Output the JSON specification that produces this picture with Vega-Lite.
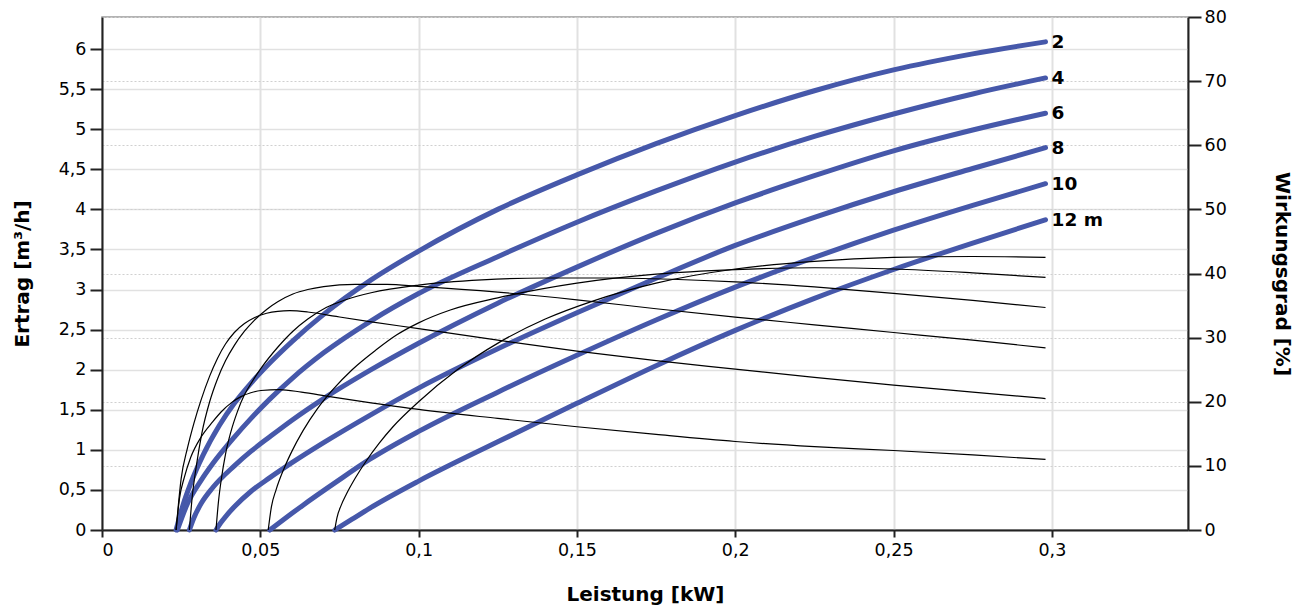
{
  "$schema": "https://vega.github.io/schema/vega-lite/v6.json",
  "width": 1086,
  "height": 513,
  "autosize": "none",
  "padding": {"left": 102, "top": 17, "right": 120, "bottom": 77},
  "background": "white",
  "config": {
    "font": "DejaVu Sans",
    "view": {"stroke": "#9a9a9a", "strokeWidth": 1.5},
    "axis": {
      "labelFont": "DejaVu Sans",
      "labelFontSize": 17.5,
      "labelColor": "#000000",
      "titleFont": "DejaVu Sans",
      "titleFontSize": 20,
      "titleFontWeight": "bold",
      "titleColor": "#000000",
      "domainColor": "#222222",
      "domainWidth": 2,
      "tickColor": "#222222",
      "tickWidth": 2,
      "gridColor": "#e1e1e1",
      "gridWidth": 1.6
    }
  },
  "datasets": {
    "ertrag": [
      {"Hoehe": 2, "Leistung": 0.0234, "Ertrag": 0},
      {"Hoehe": 2, "Leistung": 0.0255, "Ertrag": 0.3},
      {"Hoehe": 2, "Leistung": 0.028, "Ertrag": 0.58},
      {"Hoehe": 2, "Leistung": 0.032, "Ertrag": 0.94},
      {"Hoehe": 2, "Leistung": 0.037, "Ertrag": 1.3},
      {"Hoehe": 2, "Leistung": 0.0418, "Ertrag": 1.58},
      {"Hoehe": 2, "Leistung": 0.047, "Ertrag": 1.83},
      {"Hoehe": 2, "Leistung": 0.0529, "Ertrag": 2.08},
      {"Hoehe": 2, "Leistung": 0.06, "Ertrag": 2.35},
      {"Hoehe": 2, "Leistung": 0.07, "Ertrag": 2.69},
      {"Hoehe": 2, "Leistung": 0.085, "Ertrag": 3.12},
      {"Hoehe": 2, "Leistung": 0.1, "Ertrag": 3.48},
      {"Hoehe": 2, "Leistung": 0.125, "Ertrag": 4.0},
      {"Hoehe": 2, "Leistung": 0.15, "Ertrag": 4.43},
      {"Hoehe": 2, "Leistung": 0.175, "Ertrag": 4.82},
      {"Hoehe": 2, "Leistung": 0.2, "Ertrag": 5.17},
      {"Hoehe": 2, "Leistung": 0.225, "Ertrag": 5.48},
      {"Hoehe": 2, "Leistung": 0.25, "Ertrag": 5.74},
      {"Hoehe": 2, "Leistung": 0.275, "Ertrag": 5.94},
      {"Hoehe": 2, "Leistung": 0.298, "Ertrag": 6.09},

      {"Hoehe": 4, "Leistung": 0.0238, "Ertrag": 0},
      {"Hoehe": 4, "Leistung": 0.027, "Ertrag": 0.33},
      {"Hoehe": 4, "Leistung": 0.0313, "Ertrag": 0.62},
      {"Hoehe": 4, "Leistung": 0.035, "Ertrag": 0.83},
      {"Hoehe": 4, "Leistung": 0.0418, "Ertrag": 1.16},
      {"Hoehe": 4, "Leistung": 0.047, "Ertrag": 1.39},
      {"Hoehe": 4, "Leistung": 0.0529, "Ertrag": 1.63},
      {"Hoehe": 4, "Leistung": 0.06, "Ertrag": 1.89},
      {"Hoehe": 4, "Leistung": 0.07, "Ertrag": 2.21},
      {"Hoehe": 4, "Leistung": 0.085, "Ertrag": 2.61},
      {"Hoehe": 4, "Leistung": 0.1, "Ertrag": 2.95},
      {"Hoehe": 4, "Leistung": 0.125, "Ertrag": 3.41},
      {"Hoehe": 4, "Leistung": 0.15, "Ertrag": 3.84},
      {"Hoehe": 4, "Leistung": 0.175, "Ertrag": 4.23},
      {"Hoehe": 4, "Leistung": 0.2, "Ertrag": 4.59},
      {"Hoehe": 4, "Leistung": 0.225, "Ertrag": 4.91},
      {"Hoehe": 4, "Leistung": 0.25, "Ertrag": 5.19},
      {"Hoehe": 4, "Leistung": 0.275, "Ertrag": 5.44},
      {"Hoehe": 4, "Leistung": 0.298, "Ertrag": 5.64},

      {"Hoehe": 6, "Leistung": 0.0276, "Ertrag": 0},
      {"Hoehe": 6, "Leistung": 0.029, "Ertrag": 0.15},
      {"Hoehe": 6, "Leistung": 0.0313, "Ertrag": 0.33},
      {"Hoehe": 6, "Leistung": 0.035, "Ertrag": 0.53},
      {"Hoehe": 6, "Leistung": 0.0418, "Ertrag": 0.8},
      {"Hoehe": 6, "Leistung": 0.047, "Ertrag": 0.98},
      {"Hoehe": 6, "Leistung": 0.0529, "Ertrag": 1.16},
      {"Hoehe": 6, "Leistung": 0.06, "Ertrag": 1.37},
      {"Hoehe": 6, "Leistung": 0.07, "Ertrag": 1.64},
      {"Hoehe": 6, "Leistung": 0.085, "Ertrag": 2.0},
      {"Hoehe": 6, "Leistung": 0.1, "Ertrag": 2.33},
      {"Hoehe": 6, "Leistung": 0.125, "Ertrag": 2.83},
      {"Hoehe": 6, "Leistung": 0.15, "Ertrag": 3.28},
      {"Hoehe": 6, "Leistung": 0.175, "Ertrag": 3.7},
      {"Hoehe": 6, "Leistung": 0.2, "Ertrag": 4.08},
      {"Hoehe": 6, "Leistung": 0.225, "Ertrag": 4.42},
      {"Hoehe": 6, "Leistung": 0.25, "Ertrag": 4.73},
      {"Hoehe": 6, "Leistung": 0.275, "Ertrag": 4.99},
      {"Hoehe": 6, "Leistung": 0.298, "Ertrag": 5.2},

      {"Hoehe": 8, "Leistung": 0.036, "Ertrag": 0},
      {"Hoehe": 8, "Leistung": 0.0375, "Ertrag": 0.09},
      {"Hoehe": 8, "Leistung": 0.0395, "Ertrag": 0.19},
      {"Hoehe": 8, "Leistung": 0.0418, "Ertrag": 0.29},
      {"Hoehe": 8, "Leistung": 0.047, "Ertrag": 0.48},
      {"Hoehe": 8, "Leistung": 0.0529, "Ertrag": 0.65},
      {"Hoehe": 8, "Leistung": 0.06, "Ertrag": 0.84},
      {"Hoehe": 8, "Leistung": 0.07, "Ertrag": 1.09},
      {"Hoehe": 8, "Leistung": 0.085, "Ertrag": 1.44},
      {"Hoehe": 8, "Leistung": 0.1, "Ertrag": 1.77},
      {"Hoehe": 8, "Leistung": 0.125, "Ertrag": 2.26},
      {"Hoehe": 8, "Leistung": 0.15, "Ertrag": 2.71},
      {"Hoehe": 8, "Leistung": 0.175, "Ertrag": 3.14},
      {"Hoehe": 8, "Leistung": 0.2, "Ertrag": 3.55},
      {"Hoehe": 8, "Leistung": 0.225, "Ertrag": 3.9},
      {"Hoehe": 8, "Leistung": 0.25, "Ertrag": 4.22},
      {"Hoehe": 8, "Leistung": 0.275, "Ertrag": 4.51},
      {"Hoehe": 8, "Leistung": 0.298, "Ertrag": 4.77},

      {"Hoehe": 10, "Leistung": 0.053, "Ertrag": 0},
      {"Hoehe": 10, "Leistung": 0.058, "Ertrag": 0.15},
      {"Hoehe": 10, "Leistung": 0.0635, "Ertrag": 0.31},
      {"Hoehe": 10, "Leistung": 0.074, "Ertrag": 0.6},
      {"Hoehe": 10, "Leistung": 0.0845, "Ertrag": 0.88},
      {"Hoehe": 10, "Leistung": 0.1, "Ertrag": 1.23},
      {"Hoehe": 10, "Leistung": 0.125, "Ertrag": 1.72},
      {"Hoehe": 10, "Leistung": 0.15, "Ertrag": 2.18},
      {"Hoehe": 10, "Leistung": 0.175, "Ertrag": 2.62},
      {"Hoehe": 10, "Leistung": 0.2, "Ertrag": 3.03},
      {"Hoehe": 10, "Leistung": 0.225, "Ertrag": 3.4},
      {"Hoehe": 10, "Leistung": 0.25, "Ertrag": 3.74},
      {"Hoehe": 10, "Leistung": 0.275, "Ertrag": 4.05},
      {"Hoehe": 10, "Leistung": 0.298, "Ertrag": 4.32},

      {"Hoehe": 12, "Leistung": 0.0735, "Ertrag": 0},
      {"Hoehe": 12, "Leistung": 0.079, "Ertrag": 0.135},
      {"Hoehe": 12, "Leistung": 0.0845, "Ertrag": 0.27},
      {"Hoehe": 12, "Leistung": 0.1, "Ertrag": 0.61},
      {"Hoehe": 12, "Leistung": 0.125, "Ertrag": 1.1},
      {"Hoehe": 12, "Leistung": 0.15, "Ertrag": 1.58},
      {"Hoehe": 12, "Leistung": 0.175, "Ertrag": 2.05},
      {"Hoehe": 12, "Leistung": 0.2, "Ertrag": 2.49},
      {"Hoehe": 12, "Leistung": 0.225, "Ertrag": 2.89},
      {"Hoehe": 12, "Leistung": 0.25, "Ertrag": 3.25},
      {"Hoehe": 12, "Leistung": 0.275, "Ertrag": 3.58},
      {"Hoehe": 12, "Leistung": 0.298, "Ertrag": 3.87}
    ],
    "wirkungsgrad": [
      {"Hoehe": 2, "Leistung": 0.0234, "Wirkungsgrad": 0},
      {"Hoehe": 2, "Leistung": 0.0245, "Wirkungsgrad": 5.0},
      {"Hoehe": 2, "Leistung": 0.026, "Wirkungsgrad": 8.2},
      {"Hoehe": 2, "Leistung": 0.028, "Wirkungsgrad": 11.3},
      {"Hoehe": 2, "Leistung": 0.0313, "Wirkungsgrad": 14.5},
      {"Hoehe": 2, "Leistung": 0.035, "Wirkungsgrad": 16.9},
      {"Hoehe": 2, "Leistung": 0.0376, "Wirkungsgrad": 18.4},
      {"Hoehe": 2, "Leistung": 0.041, "Wirkungsgrad": 19.9},
      {"Hoehe": 2, "Leistung": 0.0439, "Wirkungsgrad": 20.8},
      {"Hoehe": 2, "Leistung": 0.047, "Wirkungsgrad": 21.4},
      {"Hoehe": 2, "Leistung": 0.0502, "Wirkungsgrad": 21.75},
      {"Hoehe": 2, "Leistung": 0.056, "Wirkungsgrad": 21.9},
      {"Hoehe": 2, "Leistung": 0.063, "Wirkungsgrad": 21.5},
      {"Hoehe": 2, "Leistung": 0.0719, "Wirkungsgrad": 20.8},
      {"Hoehe": 2, "Leistung": 0.0855, "Wirkungsgrad": 19.8},
      {"Hoehe": 2, "Leistung": 0.1, "Wirkungsgrad": 18.8},
      {"Hoehe": 2, "Leistung": 0.125, "Wirkungsgrad": 17.4},
      {"Hoehe": 2, "Leistung": 0.15, "Wirkungsgrad": 16.1},
      {"Hoehe": 2, "Leistung": 0.175, "Wirkungsgrad": 14.9},
      {"Hoehe": 2, "Leistung": 0.2, "Wirkungsgrad": 13.8},
      {"Hoehe": 2, "Leistung": 0.225, "Wirkungsgrad": 13.0},
      {"Hoehe": 2, "Leistung": 0.25, "Wirkungsgrad": 12.4},
      {"Hoehe": 2, "Leistung": 0.275, "Wirkungsgrad": 11.7},
      {"Hoehe": 2, "Leistung": 0.298, "Wirkungsgrad": 11.0},

      {"Hoehe": 4, "Leistung": 0.0234, "Wirkungsgrad": 0},
      {"Hoehe": 4, "Leistung": 0.025, "Wirkungsgrad": 8.0},
      {"Hoehe": 4, "Leistung": 0.027, "Wirkungsgrad": 12.8},
      {"Hoehe": 4, "Leistung": 0.029, "Wirkungsgrad": 16.6},
      {"Hoehe": 4, "Leistung": 0.0313, "Wirkungsgrad": 20.3},
      {"Hoehe": 4, "Leistung": 0.034, "Wirkungsgrad": 24.0},
      {"Hoehe": 4, "Leistung": 0.0365, "Wirkungsgrad": 26.8},
      {"Hoehe": 4, "Leistung": 0.039, "Wirkungsgrad": 29.0},
      {"Hoehe": 4, "Leistung": 0.0418, "Wirkungsgrad": 30.8},
      {"Hoehe": 4, "Leistung": 0.045, "Wirkungsgrad": 32.2},
      {"Hoehe": 4, "Leistung": 0.0481, "Wirkungsgrad": 33.1},
      {"Hoehe": 4, "Leistung": 0.052, "Wirkungsgrad": 33.8},
      {"Hoehe": 4, "Leistung": 0.0555, "Wirkungsgrad": 34.1},
      {"Hoehe": 4, "Leistung": 0.0593, "Wirkungsgrad": 34.2},
      {"Hoehe": 4, "Leistung": 0.065, "Wirkungsgrad": 34.0},
      {"Hoehe": 4, "Leistung": 0.074, "Wirkungsgrad": 33.3},
      {"Hoehe": 4, "Leistung": 0.0845, "Wirkungsgrad": 32.5},
      {"Hoehe": 4, "Leistung": 0.1, "Wirkungsgrad": 31.4},
      {"Hoehe": 4, "Leistung": 0.125, "Wirkungsgrad": 29.6},
      {"Hoehe": 4, "Leistung": 0.15, "Wirkungsgrad": 27.9},
      {"Hoehe": 4, "Leistung": 0.175, "Wirkungsgrad": 26.4},
      {"Hoehe": 4, "Leistung": 0.2, "Wirkungsgrad": 25.1},
      {"Hoehe": 4, "Leistung": 0.225, "Wirkungsgrad": 23.8},
      {"Hoehe": 4, "Leistung": 0.25, "Wirkungsgrad": 22.6},
      {"Hoehe": 4, "Leistung": 0.275, "Wirkungsgrad": 21.5},
      {"Hoehe": 4, "Leistung": 0.298, "Wirkungsgrad": 20.5},

      {"Hoehe": 6, "Leistung": 0.0276, "Wirkungsgrad": 0},
      {"Hoehe": 6, "Leistung": 0.0285, "Wirkungsgrad": 5.2},
      {"Hoehe": 6, "Leistung": 0.0298, "Wirkungsgrad": 10.0},
      {"Hoehe": 6, "Leistung": 0.0315, "Wirkungsgrad": 15.0},
      {"Hoehe": 6, "Leistung": 0.034, "Wirkungsgrad": 20.0},
      {"Hoehe": 6, "Leistung": 0.0365, "Wirkungsgrad": 23.6},
      {"Hoehe": 6, "Leistung": 0.039, "Wirkungsgrad": 26.4},
      {"Hoehe": 6, "Leistung": 0.0418, "Wirkungsgrad": 28.8},
      {"Hoehe": 6, "Leistung": 0.045, "Wirkungsgrad": 31.0},
      {"Hoehe": 6, "Leistung": 0.0481, "Wirkungsgrad": 32.7},
      {"Hoehe": 6, "Leistung": 0.052, "Wirkungsgrad": 34.4},
      {"Hoehe": 6, "Leistung": 0.0555, "Wirkungsgrad": 35.6},
      {"Hoehe": 6, "Leistung": 0.0603, "Wirkungsgrad": 36.8},
      {"Hoehe": 6, "Leistung": 0.065, "Wirkungsgrad": 37.5},
      {"Hoehe": 6, "Leistung": 0.07, "Wirkungsgrad": 37.95},
      {"Hoehe": 6, "Leistung": 0.08, "Wirkungsgrad": 38.3},
      {"Hoehe": 6, "Leistung": 0.09, "Wirkungsgrad": 38.3},
      {"Hoehe": 6, "Leistung": 0.1, "Wirkungsgrad": 38.0},
      {"Hoehe": 6, "Leistung": 0.125, "Wirkungsgrad": 37.1},
      {"Hoehe": 6, "Leistung": 0.15, "Wirkungsgrad": 35.9},
      {"Hoehe": 6, "Leistung": 0.175, "Wirkungsgrad": 34.5},
      {"Hoehe": 6, "Leistung": 0.2, "Wirkungsgrad": 33.2},
      {"Hoehe": 6, "Leistung": 0.225, "Wirkungsgrad": 32.0},
      {"Hoehe": 6, "Leistung": 0.25, "Wirkungsgrad": 30.8},
      {"Hoehe": 6, "Leistung": 0.275, "Wirkungsgrad": 29.6},
      {"Hoehe": 6, "Leistung": 0.298, "Wirkungsgrad": 28.4},

      {"Hoehe": 8, "Leistung": 0.036, "Wirkungsgrad": 0},
      {"Hoehe": 8, "Leistung": 0.0368, "Wirkungsgrad": 4.5},
      {"Hoehe": 8, "Leistung": 0.0378, "Wirkungsgrad": 8.3},
      {"Hoehe": 8, "Leistung": 0.039, "Wirkungsgrad": 11.8},
      {"Hoehe": 8, "Leistung": 0.0407, "Wirkungsgrad": 15.3},
      {"Hoehe": 8, "Leistung": 0.0428, "Wirkungsgrad": 18.5},
      {"Hoehe": 8, "Leistung": 0.0449, "Wirkungsgrad": 21.0},
      {"Hoehe": 8, "Leistung": 0.0475, "Wirkungsgrad": 23.2},
      {"Hoehe": 8, "Leistung": 0.0502, "Wirkungsgrad": 25.2},
      {"Hoehe": 8, "Leistung": 0.0555, "Wirkungsgrad": 28.5},
      {"Hoehe": 8, "Leistung": 0.0603, "Wirkungsgrad": 31.0},
      {"Hoehe": 8, "Leistung": 0.065, "Wirkungsgrad": 32.9},
      {"Hoehe": 8, "Leistung": 0.0708, "Wirkungsgrad": 34.7},
      {"Hoehe": 8, "Leistung": 0.077, "Wirkungsgrad": 35.9},
      {"Hoehe": 8, "Leistung": 0.085, "Wirkungsgrad": 37.0},
      {"Hoehe": 8, "Leistung": 0.1, "Wirkungsgrad": 38.2},
      {"Hoehe": 8, "Leistung": 0.12, "Wirkungsgrad": 39.0},
      {"Hoehe": 8, "Leistung": 0.14, "Wirkungsgrad": 39.3},
      {"Hoehe": 8, "Leistung": 0.16, "Wirkungsgrad": 39.3},
      {"Hoehe": 8, "Leistung": 0.18, "Wirkungsgrad": 39.1},
      {"Hoehe": 8, "Leistung": 0.2, "Wirkungsgrad": 38.7},
      {"Hoehe": 8, "Leistung": 0.225, "Wirkungsgrad": 37.9},
      {"Hoehe": 8, "Leistung": 0.25, "Wirkungsgrad": 36.9},
      {"Hoehe": 8, "Leistung": 0.275, "Wirkungsgrad": 35.8},
      {"Hoehe": 8, "Leistung": 0.298, "Wirkungsgrad": 34.7},

      {"Hoehe": 10, "Leistung": 0.0525, "Wirkungsgrad": 0},
      {"Hoehe": 10, "Leistung": 0.0535, "Wirkungsgrad": 3.6},
      {"Hoehe": 10, "Leistung": 0.055, "Wirkungsgrad": 6.3},
      {"Hoehe": 10, "Leistung": 0.0575, "Wirkungsgrad": 9.6},
      {"Hoehe": 10, "Leistung": 0.06, "Wirkungsgrad": 12.3},
      {"Hoehe": 10, "Leistung": 0.0635, "Wirkungsgrad": 15.5},
      {"Hoehe": 10, "Leistung": 0.068, "Wirkungsgrad": 18.9},
      {"Hoehe": 10, "Leistung": 0.0729, "Wirkungsgrad": 21.9},
      {"Hoehe": 10, "Leistung": 0.079, "Wirkungsgrad": 25.0},
      {"Hoehe": 10, "Leistung": 0.0866, "Wirkungsgrad": 28.1},
      {"Hoehe": 10, "Leistung": 0.093, "Wirkungsgrad": 30.4},
      {"Hoehe": 10, "Leistung": 0.1, "Wirkungsgrad": 32.3},
      {"Hoehe": 10, "Leistung": 0.11, "Wirkungsgrad": 34.3},
      {"Hoehe": 10, "Leistung": 0.125, "Wirkungsgrad": 36.2},
      {"Hoehe": 10, "Leistung": 0.15, "Wirkungsgrad": 38.5},
      {"Hoehe": 10, "Leistung": 0.175, "Wirkungsgrad": 39.9},
      {"Hoehe": 10, "Leistung": 0.2, "Wirkungsgrad": 40.6},
      {"Hoehe": 10, "Leistung": 0.225, "Wirkungsgrad": 40.9},
      {"Hoehe": 10, "Leistung": 0.25, "Wirkungsgrad": 40.7},
      {"Hoehe": 10, "Leistung": 0.275, "Wirkungsgrad": 40.1},
      {"Hoehe": 10, "Leistung": 0.298, "Wirkungsgrad": 39.4},

      {"Hoehe": 12, "Leistung": 0.0735, "Wirkungsgrad": 0},
      {"Hoehe": 12, "Leistung": 0.0742, "Wirkungsgrad": 1.9},
      {"Hoehe": 12, "Leistung": 0.0755, "Wirkungsgrad": 3.8},
      {"Hoehe": 12, "Leistung": 0.0772, "Wirkungsgrad": 5.6},
      {"Hoehe": 12, "Leistung": 0.08, "Wirkungsgrad": 8.1},
      {"Hoehe": 12, "Leistung": 0.0835, "Wirkungsgrad": 10.8},
      {"Hoehe": 12, "Leistung": 0.0875, "Wirkungsgrad": 13.5},
      {"Hoehe": 12, "Leistung": 0.0919, "Wirkungsgrad": 16.1},
      {"Hoehe": 12, "Leistung": 0.1, "Wirkungsgrad": 20.0},
      {"Hoehe": 12, "Leistung": 0.112, "Wirkungsgrad": 24.9},
      {"Hoehe": 12, "Leistung": 0.1256, "Wirkungsgrad": 29.3},
      {"Hoehe": 12, "Leistung": 0.14, "Wirkungsgrad": 32.9},
      {"Hoehe": 12, "Leistung": 0.155, "Wirkungsgrad": 35.7},
      {"Hoehe": 12, "Leistung": 0.175, "Wirkungsgrad": 38.5},
      {"Hoehe": 12, "Leistung": 0.2, "Wirkungsgrad": 40.7},
      {"Hoehe": 12, "Leistung": 0.225, "Wirkungsgrad": 41.9},
      {"Hoehe": 12, "Leistung": 0.25, "Wirkungsgrad": 42.5},
      {"Hoehe": 12, "Leistung": 0.275, "Wirkungsgrad": 42.65},
      {"Hoehe": 12, "Leistung": 0.298, "Wirkungsgrad": 42.5}
    ],
    "beschriftung": [
      {"Leistung": 0.298, "Ertrag": 6.09, "Label": "2"},
      {"Leistung": 0.298, "Ertrag": 5.64, "Label": "4"},
      {"Leistung": 0.298, "Ertrag": 5.2, "Label": "6"},
      {"Leistung": 0.298, "Ertrag": 4.77, "Label": "8"},
      {"Leistung": 0.298, "Ertrag": 4.32, "Label": "10"},
      {"Leistung": 0.298, "Ertrag": 3.87, "Label": "12 m"}
    ]
  },
  "encoding": {
    "x": {
      "field": "Leistung",
      "type": "quantitative",
      "scale": {"domain": [0, 0.343], "nice": false, "zero": true},
      "axis": {
        "title": "Leistung [kW]",
        "values": [0, 0.05, 0.1, 0.15, 0.2, 0.25, 0.3],
        "labelExpr": "replace(format(datum.value, '~g'), '.', ',')",
        "tickSize": 7,
        "labelPadding": 4,
        "grid": true,
        "gridWidth": 2,
        "titleX": 543,
        "titleY": 70,
        "titleAlign": "center",
        "titleBaseline": "alphabetic"
      }
    }
  },
  "layer": [
    {
      "encoding": {
        "y": {
          "field": "Ertrag",
          "type": "quantitative",
          "scale": {"domain": [0, 6.4], "nice": false, "zero": true},
          "axis": {
            "orient": "left",
            "title": "Ertrag [m³/h]",
            "values": [0, 0.5, 1, 1.5, 2, 2.5, 3, 3.5, 4, 4.5, 5, 5.5, 6],
            "labelExpr": "replace(format(datum.value, '~g'), '.', ',')",
            "tickSize": 12,
            "labelPadding": 4,
            "grid": true,
            "titleAngle": 270,
            "titleX": -80,
            "titleY": 256.5,
            "titleAlign": "center",
            "titleBaseline": "middle"
          }
        }
      },
      "layer": [
        {
          "data": {"name": "ertrag"},
          "mark": {"type": "line", "interpolate": "monotone", "color": "#4658aa", "strokeWidth": 5, "strokeCap": "round"},
          "encoding": {"detail": {"field": "Hoehe", "type": "nominal"}}
        },
        {
          "data": {"name": "beschriftung"},
          "mark": {"type": "text", "align": "left", "baseline": "middle", "dx": 6, "fontSize": 18.5, "fontWeight": "bold", "font": "DejaVu Sans", "color": "#000000"},
          "encoding": {"text": {"field": "Label", "type": "nominal"}}
        }
      ]
    },
    {
      "data": {"name": "wirkungsgrad"},
      "mark": {"type": "line", "interpolate": "monotone", "color": "#000000", "strokeWidth": 1.2},
      "encoding": {
        "detail": {"field": "Hoehe", "type": "nominal"},
        "y": {
          "field": "Wirkungsgrad",
          "type": "quantitative",
          "scale": {"domain": [0, 80], "nice": false, "zero": true},
          "axis": {
            "orient": "right",
            "title": "Wirkungsgrad [%]",
            "values": [0, 10, 20, 30, 40, 50, 60, 70, 80],
            "tickSize": 13,
            "labelPadding": 3,
            "grid": true,
            "gridDash": [2, 2],
            "gridColor": "#d0d0d0",
            "gridWidth": 1.2,
            "titleAngle": 90,
            "titleX": 93,
            "titleY": 256.5,
            "titleAlign": "center",
            "titleBaseline": "middle"
          }
        }
      }
    }
  ],
  "resolve": {"scale": {"y": "independent"}}
}
